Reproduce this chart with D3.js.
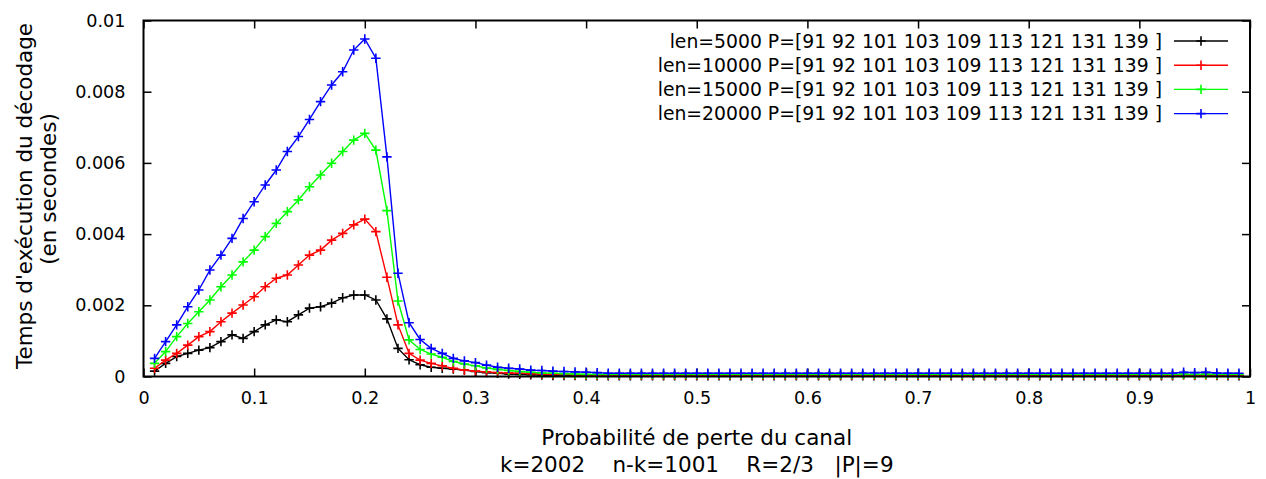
<!DOCTYPE html>
<html><head><meta charset="utf-8">
<script src="https://cdn.jsdelivr.net/npm/d3@7"></script>
<style>
body{margin:0;background:#fff;}
text{font-family:"DejaVu Sans",sans-serif;fill:#000;}
</style></head>
<body><svg id="c" width="1266" height="479"></svg>
<script>
const xValues = [0.01,0.02,0.03,0.04,0.05,0.06,0.07,0.08,0.09,0.10,
0.11,0.12,0.13,0.14,0.15,0.16,0.17,0.18,0.19,0.20,
0.21,0.22,0.23,0.24,0.25,0.26,0.27,0.28,0.29,0.30,
0.31,0.32,0.33,0.34,0.35,0.36,0.37,0.38,0.39,0.40,
0.41,0.42,0.43,0.44,0.45,0.46,0.47,0.48,0.49,0.50,
0.51,0.52,0.53,0.54,0.55,0.56,0.57,0.58,0.59,0.60,
0.61,0.62,0.63,0.64,0.65,0.66,0.67,0.68,0.69,0.70,
0.71,0.72,0.73,0.74,0.75,0.76,0.77,0.78,0.79,0.80,
0.81,0.82,0.83,0.84,0.85,0.86,0.87,0.88,0.89,0.90,
0.91,0.92,0.93,0.94,0.95,0.96,0.97,0.98,0.99];

const len5000 = [0.00015,0.00037,0.00056,0.00065,0.00074,0.00081,0.00098,0.00117,0.00107,0.00126,
0.00145,0.00159,0.00154,0.00173,0.00192,0.00196,0.00206,0.00221,0.00229,0.00229,
0.00215,0.00162,0.00079,0.00047,0.00033,0.00026,0.00023,0.00021,0.00018,0.00014,
0.00011,0.00009,0.00007,0.00006,0.00005,0.00004,0.00003,0.00003,0.00003,0.00002,
0.00002,0.00002,0.00002,0.00002,0.00002,0.00002,0.00002,0.00002,0.00002,0.00002,
0.00002,0.00002,0.00002,0.00002,0.00002,0.00002,0.00002,0.00002,0.00002,0.00002,
0.00002,0.00002,0.00002,0.00002,0.00002,0.00002,0.00002,0.00002,0.00002,0.00002,
0.00002,0.00002,0.00002,0.00002,0.00002,0.00002,0.00002,0.00002,0.00002,0.00002,
0.00002,0.00002,0.00002,0.00002,0.00002,0.00002,0.00002,0.00002,0.00002,0.00002,
0.00002,0.00002,0.00002,0.00006,0.00003,0.00006,0.00003,0.00002,0.00002];

const len10000 = [0.00023,0.00046,0.00065,0.00088,0.00112,0.00126,0.00154,0.00178,0.00201,0.00224,
0.00252,0.00276,0.00285,0.00313,0.00341,0.00355,0.00383,0.00402,0.00426,0.00442,
0.00407,0.00279,0.00145,0.00065,0.00046,0.00037,0.00030,0.00023,0.00018,0.00015,
0.00013,0.00011,0.00010,0.00009,0.00008,0.00007,0.00006,0.00006,0.00005,0.00005,
0.00004,0.00004,0.00004,0.00004,0.00004,0.00004,0.00004,0.00004,0.00004,0.00004,
0.00004,0.00004,0.00004,0.00004,0.00004,0.00004,0.00004,0.00004,0.00004,0.00004,
0.00004,0.00004,0.00004,0.00004,0.00004,0.00004,0.00004,0.00004,0.00004,0.00004,
0.00004,0.00004,0.00004,0.00004,0.00004,0.00004,0.00004,0.00004,0.00004,0.00004,
0.00004,0.00004,0.00004,0.00004,0.00004,0.00004,0.00004,0.00004,0.00004,0.00004,
0.00004,0.00004,0.00004,0.00004,0.00004,0.00004,0.00004,0.00004,0.00004];

const len15000 = [0.00037,0.00070,0.00112,0.00149,0.00182,0.00215,0.00252,0.00285,0.00322,0.00355,
0.00393,0.00430,0.00463,0.00496,0.00533,0.00566,0.00599,0.00632,0.00664,0.00683,
0.00636,0.00466,0.00212,0.00103,0.00076,0.00063,0.00054,0.00042,0.00035,0.00030,
0.00024,0.00020,0.00017,0.00014,0.00012,0.00010,0.00009,0.00008,0.00007,0.00006,
0.00006,0.00006,0.00006,0.00006,0.00006,0.00006,0.00006,0.00006,0.00006,0.00006,
0.00006,0.00006,0.00006,0.00006,0.00006,0.00006,0.00006,0.00006,0.00006,0.00006,
0.00006,0.00006,0.00006,0.00006,0.00006,0.00006,0.00006,0.00006,0.00006,0.00006,
0.00006,0.00006,0.00006,0.00006,0.00006,0.00006,0.00006,0.00006,0.00006,0.00006,
0.00006,0.00006,0.00006,0.00006,0.00006,0.00006,0.00006,0.00006,0.00006,0.00006,
0.00006,0.00006,0.00006,0.00006,0.00006,0.00006,0.00006,0.00006,0.00006];

const len20000 = [0.00051,0.00098,0.00145,0.00196,0.00243,0.00299,0.00341,0.00388,0.00444,0.00491,
0.00538,0.00580,0.00632,0.00674,0.00722,0.00772,0.00819,0.00856,0.00917,0.00948,
0.00894,0.00617,0.00290,0.00151,0.00104,0.00079,0.00065,0.00051,0.00044,0.00039,
0.00032,0.00026,0.00023,0.00021,0.00018,0.00017,0.00015,0.00014,0.00013,0.00012,
0.00011,0.00009,0.00009,0.00009,0.00009,0.00009,0.00009,0.00009,0.00009,0.00009,
0.00009,0.00009,0.00009,0.00009,0.00009,0.00009,0.00009,0.00009,0.00009,0.00009,
0.00009,0.00009,0.00009,0.00009,0.00009,0.00009,0.00009,0.00009,0.00009,0.00009,
0.00009,0.00009,0.00009,0.00009,0.00009,0.00009,0.00009,0.00009,0.00009,0.00009,
0.00009,0.00009,0.00009,0.00009,0.00009,0.00009,0.00009,0.00009,0.00009,0.00009,
0.00009,0.00009,0.00009,0.00012,0.00011,0.00012,0.00010,0.00009,0.00009];

const seriesNames = ["len=5000 P=[91 92 101 103 109 113 121 131 139 ]",
                     "len=10000 P=[91 92 101 103 109 113 121 131 139 ]",
                     "len=15000 P=[91 92 101 103 109 113 121 131 139 ]",
                     "len=20000 P=[91 92 101 103 109 113 121 131 139 ]"];
const seriesColors = ["#000000","#ff0000","#00ff00","#0000ff"];
const xTicks = [0,0.1,0.2,0.3,0.4,0.5,0.6,0.7,0.8,0.9,1];
const xTickLabels = ["0","0.1","0.2","0.3","0.4","0.5","0.6","0.7","0.8","0.9","1"];
const yTicks = [0,0.002,0.004,0.006,0.008,0.01];
const yTickLabels = ["0","0.002","0.004","0.006","0.008","0.01"];
const xTitle = "Probabilité de perte du canal";
const xSubtitle = "k=2002    n-k=1001    R=2/3   |P|=9";
const yTitle1 = "Temps d'exécution du décodage";
const yTitle2 = "(en secondes)";

const allSeries = [len5000, len10000, len15000, len20000];

const L = 143.5, R = 1250, T = 20.5, B = 376.5;
const svg = d3.select("#c");
const x = d3.scaleLinear().domain([0,1]).range([L,R]);
const y = d3.scaleLinear().domain([0,0.01]).range([B,T]);
const fsTick = 17.6, fsLeg = 18.8, fsX = 21.5, fsY = 21.5;

// ticks (inward, mirrored)
const tl = 8;
const axB = svg.append("g").attr("transform",`translate(0,${B})`)
  .call(d3.axisBottom(x).tickValues(xTicks).tickSize(-tl).tickPadding(tl+7).tickFormat((d,i)=>xTickLabels[i]));
const axT = svg.append("g").attr("transform",`translate(0,${T})`)
  .call(d3.axisTop(x).tickValues(xTicks).tickSize(-tl).tickFormat(""));
const axL = svg.append("g").attr("transform",`translate(${L},0)`)
  .call(d3.axisLeft(y).tickValues(yTicks).tickSize(-tl).tickPadding(tl+10).tickFormat((d,i)=>yTickLabels[i]));
const axR = svg.append("g").attr("transform",`translate(${R},0)`)
  .call(d3.axisRight(y).tickValues(yTicks).tickSize(-tl).tickFormat(""));
[axB,axT,axL,axR].forEach(a=>{
  a.select(".domain").remove();
  a.selectAll(".tick line").attr("stroke","#000").attr("stroke-width",1.5);
  a.selectAll("text").attr("font-family","DejaVu Sans").attr("font-size",fsTick).attr("fill","#000");
});

// series
const line = d3.line().x((d,i)=>x(xValues[i])).y(d=>y(d));
const ms = 4.7;
allSeries.forEach((vals,k)=>{
  const g = svg.append("g");
  g.append("path").datum(vals).attr("d",line).attr("fill","none")
    .attr("stroke",seriesColors[k]).attr("stroke-width",1.4);
  g.selectAll("path.m").data(vals).join("path").attr("class","m")
    .attr("d",(d,i)=>{const cx=x(xValues[i]), cy=y(d);
      return `M${cx-ms},${cy}H${cx+ms}M${cx},${cy-ms}V${cy+ms}`;})
    .attr("stroke",seriesColors[k]).attr("stroke-width",1.6);
});

// border
svg.append("rect").attr("x",L).attr("y",T).attr("width",R-L).attr("height",B-T)
  .attr("fill","none").attr("stroke","#000").attr("stroke-width",2);

// legend
const legY0 = 41, legDy = 24.2, legTextX = 1162, legL1 = 1174, legL2 = 1228;
seriesNames.forEach((nm,k)=>{
  const yy = legY0 + k*legDy;
  svg.append("text").attr("x",legTextX).attr("y",yy).attr("dy","0.35em")
    .attr("text-anchor","end").attr("font-size",fsLeg).text(nm);
  svg.append("line").attr("x1",legL1).attr("x2",legL2).attr("y1",yy).attr("y2",yy)
    .attr("stroke",seriesColors[k]).attr("stroke-width",1.4);
  const cx = (legL1+legL2)/2;
  svg.append("path").attr("d",`M${cx-ms},${yy}H${cx+ms}M${cx},${yy-ms}V${yy+ms}`)
    .attr("stroke",seriesColors[k]).attr("stroke-width",1.6);
});

// titles
svg.append("text").attr("x",(L+R)/2).attr("y",445).attr("text-anchor","middle")
  .attr("font-size",fsX).text(xTitle);
svg.append("text").attr("x",(L+R)/2).attr("y",472).attr("text-anchor","middle")
  .attr("font-size",fsX).attr("xml:space","preserve").style("white-space","pre").text(xSubtitle);
svg.append("text").attr("transform","translate(24,196) rotate(-90)").attr("dy","0.35em")
  .attr("text-anchor","middle").attr("font-size",fsY).text(yTitle1);
svg.append("text").attr("transform","translate(48,189) rotate(-90)").attr("dy","0.35em")
  .attr("text-anchor","middle").attr("font-size",fsY).text(yTitle2);
</script></body></html>
